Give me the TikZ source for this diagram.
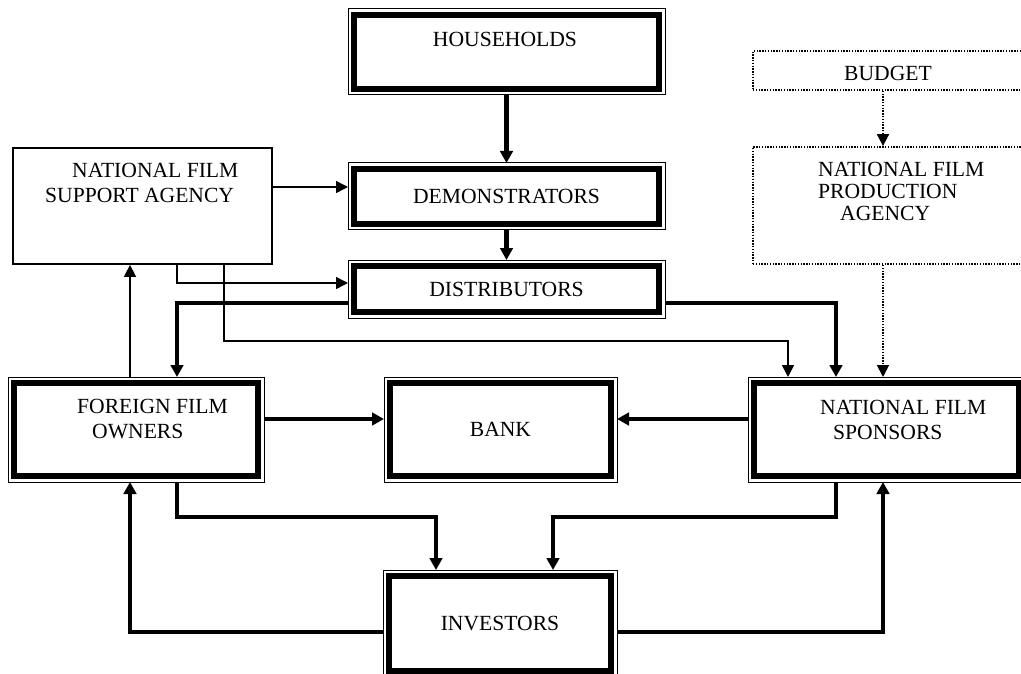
\documentclass[tikz,border=0pt]{standalone}
\usepackage{fontspec}
\setmainfont{Liberation Serif}
\usetikzlibrary{arrows.meta}
\begin{document}
\begin{tikzpicture}[x=1pt,y=-1pt,
  txt/.style={font=\fontsize{21.6}{25}\selectfont, inner sep=0pt},
  dbox/.style={draw, line width=6pt, outer sep=6pt, inner sep=0pt, font=\fontsize{21.6}{25}\selectfont},
  outerline/.style={line width=1pt},
  tbox/.style={draw, line width=1.8pt, inner sep=0pt},
  dotbox/.style={draw, line width=1.8pt, dash pattern=on 1.4pt off 1.4pt, inner sep=0pt},
  thinarr/.style={line width=1.6pt, -{Triangle[length=12pt,width=12pt]}},
  thickarr/.style={line width=4.5pt, -{Triangle[length=12pt,width=12.5pt]}},
  dotarr/.style={line width=1.8pt, dash pattern=on 1.4pt off 1.4pt, -{Triangle[length=12pt,width=12pt]}}
]
\useasboundingbox (0,0) rectangle (1021,674);
\clip (0,0) rectangle (1021,674);

% boxes
\node[dbox, minimum width=305pt, minimum height=74pt] (hh) at (506.5,52) {};
\node[txt] (hhT) at (505,39) {HOUSEHOLDS};
\node[dbox, minimum width=305pt, minimum height=55pt] (dem) at (506.5,196.5) {DEMONSTRATORS};
\node[dbox, minimum width=305pt, minimum height=46pt] (dis) at (506.5,289) {DISTRIBUTORS};
\node[dbox, minimum width=221pt, minimum height=93pt] (bank) at (500.5,429.5) {BANK};
\node[dbox, minimum width=265pt, minimum height=93pt] (nfs) at (886.5,429.5) {};
\node[txt, anchor=west, align=left] (nfsT) at (820,419.5) {NATIONAL FILM\\\hspace*{13pt}SPONSORS};
\node[dbox, minimum width=244pt, minimum height=93pt] (ffo) at (136,429.5) {};
\node[txt, anchor=west, align=left] (ffoT) at (77,419) {FOREIGN FILM\\\hspace*{15pt}OWNERS};
\node[dbox, minimum width=222pt, minimum height=95pt] (inv) at (500,623.5) {INVESTORS};
\foreach \n in {hh,dem,dis,ffo,bank,nfs,inv}
  \draw[outerline] (\n.north west) rectangle (\n.south east);

\node[tbox, minimum width=259pt, minimum height=116pt] (nfsa) at (142.5,206) {};
\node[txt, anchor=west, align=left] (nfsaT) at (45,182.5) {\hspace*{27pt}NATIONAL FILM\\SUPPORT AGENCY};

\node[dotbox, minimum width=277pt, minimum height=39pt] (bud) at (891.5,70.5) {};
\node[txt] (budT) at (888,73) {BUDGET};
\node[dotbox, minimum width=277pt, minimum height=117pt] (nfpa) at (891.5,205.5) {};
\node[txt, anchor=west, align=left, font=\fontsize{21.6}{21.7}\selectfont] (nfpaT) at (818,191.5) {NATIONAL FILM\\PRODUCTION\\\hspace*{22pt}AGENCY};

% helper levels
\coordinate (xA) at (177,0);
\coordinate (xB) at (224,0);
\coordinate (xC) at (788,0);
\coordinate (xD) at (836,0);
\coordinate (xE) at (130,0);
\coordinate (xF) at (883,0);
\coordinate (xH) at (436,0);
\coordinate (xJ) at (553,0);
\coordinate (yA) at (0,187);
\coordinate (yB) at (0,283);
\coordinate (yC) at (0,341);
\coordinate (yD) at (0,303);
\coordinate (yF) at (0,419);
\coordinate (yG) at (0,517);
\coordinate (yH) at (0,632);

% connectors
\draw[thickarr] (hh.south) -- (dem.north);
\draw[thickarr] (dem.south) -- (dis.north);
\draw[thinarr] (nfsa.east |- yA) -- (dem.west |- yA);
\draw[thinarr] (nfsa.south -| xA) |- (dis.west |- yB);
\draw[thinarr] (nfsa.south -| xB) |- (xC |- yC) -- (nfs.north -| xC);
\draw[thickarr] (dis.west |- yD) -| (ffo.north -| xA);
\draw[thinarr] (ffo.north -| xE) -- (nfsa.south -| xE);
\draw[thickarr] (dis.east |- yD) -| (nfs.north -| xD);
\draw[dotarr] (bud.south -| xF) -- (nfpa.north -| xF);
\draw[dotarr] (nfpa.south -| xF) -- (nfs.north -| xF);
\draw[thickarr] (ffo.east |- yF) -- (bank.west |- yF);
\draw[thickarr] (nfs.west |- yF) -- (bank.east |- yF);
\draw[thickarr] (ffo.south -| xA) |- (xH |- yG) -- (inv.north -| xH);
\draw[thickarr] (nfs.south -| xD) |- (xJ |- yG) -- (inv.north -| xJ);
\draw[thickarr] (inv.west |- yH) -| (ffo.south -| xE);
\draw[thickarr] (inv.east |- yH) -| (nfs.south -| xF);
\end{tikzpicture}
\end{document}
